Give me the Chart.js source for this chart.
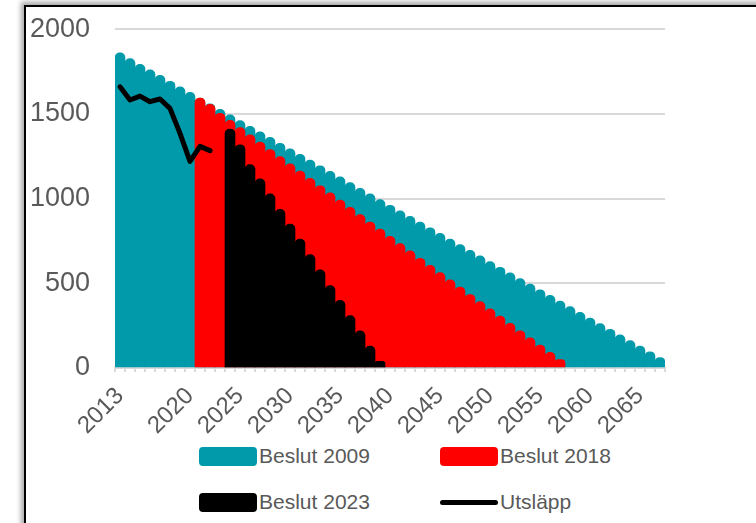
<!DOCTYPE html>
<html>
<head>
<meta charset="utf-8">
<script src="https://cdn.jsdelivr.net/npm/chart.js@4.4.1/dist/chart.umd.min.js"></script>
<style>
  html, body { margin: 0; padding: 0; background: #fff; width: 756px; height: 523px; overflow: hidden; }
  #frame {
    position: absolute; left: 24px; top: 5px; width: 760px; height: 540px;
    border-left: 2px solid #000; border-top: 2px solid #000;
    box-shadow: -3px -3px 5px rgba(0, 0, 0, 0.35);
  }
  #chartBox { position: absolute; left: 27px; top: -12px; width: 729px; height: 447px; }
  .legend-item {
    position: absolute; height: 24px; display: flex; align-items: center;
    font-family: 'Liberation Sans', Arial, sans-serif; font-size: 21px; color: #595959;
  }
  .swatch { width: 58px; height: 19px; border-radius: 4px; margin-right: 2px; }
  .swatch.line { height: 5px; border-radius: 3px; }
</style>
</head>
<body>
<div id="frame"></div>
<div id="chartBox"><canvas id="capChart"></canvas></div>
<div id="legend"></div>

<script>
const years = ['2013', '2014', '2015', '2016', '2017', '2018', '2019', '2020', '2021', '2022',
    '2023', '2024', '2025', '2026', '2027', '2028', '2029', '2030', '2031', '2032',
    '2033', '2034', '2035', '2036', '2037', '2038', '2039', '2040', '2041', '2042',
    '2043', '2044', '2045', '2046', '2047', '2048', '2049', '2050', '2051', '2052',
    '2053', '2054', '2055', '2056', '2057', '2058', '2059', '2060', '2061', '2062',
    '2063', '2064', '2065', '2066', '2067'];
const shownYears = ['2013', '2020', '2025', '2030', '2035', '2040', '2045', '2050', '2055', '2060', '2065'];
const yTicks = [0, 500, 1000, 1500, 2000];

// Beslut 2009, 2013-2067
const beslut2009 = [1860, 1827, 1793, 1760, 1727, 1693, 1660, 1627, 1594, 1560,
    1527, 1494, 1460, 1427, 1394, 1361, 1327, 1294, 1261, 1227,
    1194, 1161, 1128, 1094, 1061, 1028, 994, 961, 928, 895,
    861, 828, 795, 761, 728, 695, 662, 628, 595, 562,
    528, 495, 462, 429, 395, 362, 329, 295, 262, 229,
    196, 162, 129, 96, 62];
// Beslut 2018, 2021-2057
const beslut2018 = [1594, 1556, 1504, 1462, 1419, 1376, 1333, 1290, 1248, 1205,
    1162, 1119, 1076, 1034, 991, 948, 905, 862, 820, 777,
    734, 691, 648, 606, 563, 520, 477, 434, 392, 349,
    306, 263, 220, 178, 135, 92, 49];
// Beslut 2023, 2024-2039
const beslut2023 = [1411, 1318, 1201, 1116, 1028, 937, 849, 761, 669, 579,
    487, 399, 309, 219, 129, 39];
// Utsläpp, 2013-2022
const utslapp = [1660, 1582, 1605, 1572, 1588, 1533, 1385, 1220, 1308, 1283];

const teal = '#009AAA';
const red = '#FF0000';
const black = '#000000';
const textColor = '#595959';
const gridColor = '#d9d9d9';
const font = "'Liberation Sans', Arial, sans-serif";

// pad a series with nulls so it starts at the given year
function fromYear(startYear, values) {
    const lead = years.indexOf(startYear);
    return Array(lead).fill(null).concat(values);
}

function barSet(label, data, color, order) {
    return {
        label: label,
        data: data,
        backgroundColor: color,
        borderWidth: 0,
        borderRadius: 5,
        borderSkipped: 'start',
        grouped: false,
        barPercentage: 1,
        categoryPercentage: 1,
        order: order
    };
}

const ctx = document.getElementById('capChart').getContext('2d');
const capChart = new Chart(ctx, {
    type: 'bar',
    data: {
        labels: years,
        datasets: [
            barSet('Beslut 2009', fromYear('2013', beslut2009), teal, 4),
            barSet('Beslut 2018', fromYear('2021', beslut2018), red, 3),
            barSet('Beslut 2023', fromYear('2024', beslut2023), black, 2),
            {
                type: 'line',
                label: 'Utsläpp',
                data: utslapp,
                borderColor: black,
                backgroundColor: black,
                borderWidth: 5,
                borderJoinStyle: 'round',
                borderCapStyle: 'round',
                pointRadius: 0,
                tension: 0,
                order: 1
            }
        ]
    },
    options: {
        responsive: true,
        maintainAspectRatio: false,
        animation: false,
        devicePixelRatio: 1,
        layout: { padding: { left: 0, right: 91, top: 0, bottom: 0 } },
        scales: {
            x: {
                z: 1,
                grid: { drawOnChartArea: false, color: gridColor, lineWidth: 2, tickLength: 4, offset: true },
                border: { color: gridColor, width: 2 },
                ticks: {
                    autoSkip: false,
                    minRotation: 45,
                    maxRotation: 45,
                    padding: 10,
                    color: textColor,
                    font: { family: font, size: 24 },
                    callback: function (value) {
                        const label = this.getLabelForValue(value);
                        return shownYears.includes(label) ? label : '';
                    }
                },
                afterFit: (scale) => { scale.height = 67; }
            },
            y: {
                min: 0,
                max: 2000,
                grid: { color: gridColor, lineWidth: 2, drawTicks: false },
                border: { display: false },
                ticks: {
                    padding: 25,
                    color: textColor,
                    font: { family: font, size: 27 },
                    callback: (value) => String(value)
                },
                afterBuildTicks: (scale) => { scale.ticks = yTicks.map(v => ({ value: v })); },
                afterFit: (scale) => { scale.width = 88; }
            }
        },
        plugins: {
            legend: { display: false },
            tooltip: { enabled: false }
        }
    }
});

// legend laid out as a 2x2 grid below the chart
const legendSpots = [[199, 444], [440, 444], [199, 490], [440, 490]];
const legendBox = document.getElementById('legend');
capChart.data.datasets.forEach((ds, i) => {
    const item = document.createElement('div');
    item.className = 'legend-item';
    item.style.left = legendSpots[i][0] + 'px';
    item.style.top = legendSpots[i][1] + 'px';
    const swatch = document.createElement('div');
    swatch.className = ds.type === 'line' ? 'swatch line' : 'swatch';
    swatch.style.background = ds.type === 'line' ? ds.borderColor : ds.backgroundColor;
    const text = document.createElement('span');
    text.textContent = ds.label;
    item.appendChild(swatch);
    item.appendChild(text);
    legendBox.appendChild(item);
});
</script>
</body>
</html>
